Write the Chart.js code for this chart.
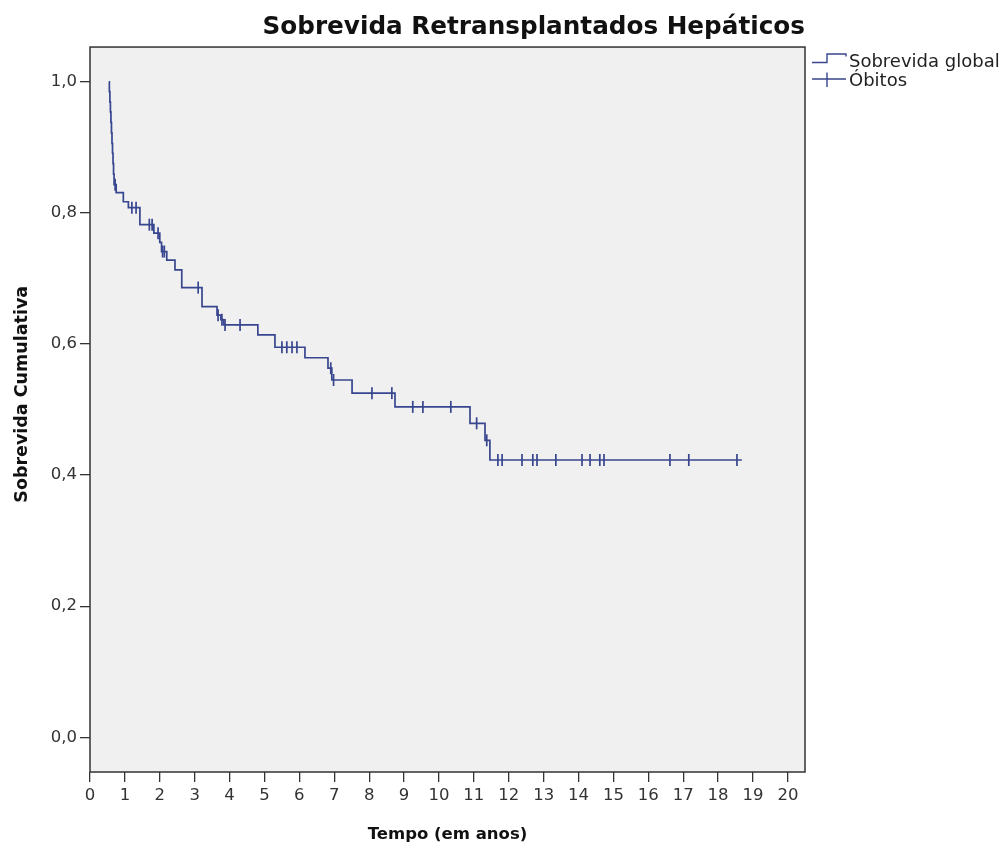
<!DOCTYPE html>
<html><head><meta charset="utf-8">
<script src="https://cdn.jsdelivr.net/npm/chart.js@4.4.0/dist/chart.umd.min.js"></script>
<style>html,body{margin:0;padding:0;background:#fff}#wrap{width:1004px;height:848px}</style>
</head><body><div id="wrap"><canvas id="c" width="1004" height="848"></canvas></div>
<script>
// Kaplan-Meier step curve: survival value reached at each event time
const eventTimes = [0.54, 0.555, 0.57, 0.585, 0.60, 0.615, 0.63, 0.645, 0.66, 0.675, 0.69, 0.75, 0.955, 1.10, 1.43, 1.83, 2.00, 2.05, 2.20, 2.435, 2.63, 3.21, 3.64, 3.75, 3.83, 4.81, 5.30, 6.16, 6.82, 6.93, 7.51, 8.74, 10.89, 11.32, 11.46, 18.68];
const survival = [1.000, 0.985, 0.969, 0.954, 0.938, 0.922, 0.906, 0.891, 0.875, 0.859, 0.843, 0.831, 0.817, 0.808, 0.782, 0.769, 0.755, 0.741, 0.728, 0.713, 0.686, 0.657, 0.644, 0.637, 0.629, 0.614, 0.595, 0.579, 0.563, 0.545, 0.525, 0.504, 0.479, 0.453, 0.423, 0.423];
// Censored observations (Óbitos marks)
const censorTimes = [0.72, 1.20, 1.32, 1.70, 1.78, 1.95, 2.08, 2.13, 3.10, 3.67, 3.78, 3.87, 4.30, 5.50, 5.64, 5.79, 5.93, 6.90, 6.98, 8.08, 8.65, 9.25, 9.54, 10.34, 11.08, 11.37, 11.69, 11.81, 12.38, 12.69, 12.81, 13.35, 14.10, 14.33, 14.61, 14.73, 16.62, 17.16, 18.54];
const censorSurvival = [0.843, 0.808, 0.808, 0.782, 0.782, 0.769, 0.741, 0.741, 0.686, 0.644, 0.637, 0.629, 0.629, 0.595, 0.595, 0.595, 0.595, 0.563, 0.545, 0.525, 0.525, 0.504, 0.504, 0.504, 0.479, 0.453, 0.423, 0.423, 0.423, 0.423, 0.423, 0.423, 0.423, 0.423, 0.423, 0.423, 0.423, 0.423, 0.423];
const xTickValues = [0,1,2,3,4,5,6,7,8,9,10,11,12,13,14,15,16,17,18,19,20];
const yTickValues = [0, 0.2, 0.4, 0.6, 0.8, 1.0];
const titleText = 'Sobrevida Retransplantados Hepáticos';
const xTitle = 'Tempo (em anos)';
const yTitle = 'Sobrevida Cumulativa';
const legendLabels = ['Sobrevida global', 'Óbitos'];

const LINE = '#38458f';
const FONT = "'DejaVu Sans', sans-serif";

const bgPlugin = {
  id: 'plotbg',
  beforeDraw(chart) {
    const {ctx, chartArea: a} = chart;
    ctx.save();
    ctx.fillStyle = '#f0f0f0';
    ctx.fillRect(a.left, a.top, a.right - a.left, a.bottom - a.top);
    ctx.restore();
  },
  afterDraw(chart) {
    const {ctx, chartArea: a} = chart;
    ctx.save();
    ctx.strokeStyle = '#333';
    ctx.lineWidth = 1.5;
    ctx.strokeRect(a.left, a.top, a.right - a.left, a.bottom - a.top);
    // legend
    const rx = a.right, ty = a.top;
    ctx.strokeStyle = LINE;
    ctx.lineWidth = 1.4;
    ctx.beginPath();
    ctx.moveTo(rx + 7, ty + 15.5);
    ctx.lineTo(rx + 22, ty + 15.5);
    ctx.lineTo(rx + 22, ty + 7);
    ctx.lineTo(rx + 41, ty + 7);
    ctx.lineTo(rx + 41, ty + 9.5);
    ctx.moveTo(rx + 7, ty + 32);
    ctx.lineTo(rx + 41, ty + 32);
    ctx.moveTo(rx + 22, ty + 25.5);
    ctx.lineTo(rx + 22, ty + 40);
    ctx.stroke();
    ctx.fillStyle = '#222';
    ctx.font = "18px " + FONT;
    ctx.textBaseline = 'alphabetic';
    ctx.textAlign = 'left';
    ctx.fillText(legendLabels[0], rx + 44, ty + 19.5);
    ctx.fillText(legendLabels[1], rx + 44, ty + 39);
    ctx.restore();
  }
};

new Chart(document.getElementById('c'), {
  type: 'scatter',
  data: {
    datasets: [
      {
        label: legendLabels[0],
        data: eventTimes.map((t, i) => ({x: t, y: survival[i]})),
        showLine: true,
        stepped: 'before',
        borderColor: LINE,
        borderWidth: 1.7,
        pointRadius: 0,
        fill: false
      },
      {
        label: legendLabels[1],
        data: censorTimes.map((t, i) => ({x: t, y: censorSurvival[i]})),
        showLine: false,
        pointStyle: 'line',
        rotation: 90,
        pointRadius: 6,
        borderColor: LINE,
        backgroundColor: LINE,
        borderWidth: 1.7
      }
    ]
  },
  options: {
    responsive: false,
    animation: false,
    devicePixelRatio: 1,
    layout: {padding: {left: 0, top: 0, right: 199, bottom: 0}},
    plugins: {
      legend: {display: false},
      tooltip: {enabled: false},
      title: {
        display: true,
        text: titleText,
        fullSize: false,
        align: 'end',
        color: '#111',
        font: {family: FONT, size: 24.7, weight: 'bold', lineHeight: 1.2},
        padding: {top: 13, bottom: 4.4}
      }
    },
    scales: {
      x: {
        type: 'linear',
        min: 0,
        max: 20.49,
        afterBuildTicks: s => { s.ticks = xTickValues.map(v => ({value: v})); },
        afterFit: s => { s.height = 76; },
        grid: {drawOnChartArea: false, drawTicks: true, tickLength: 10, color: '#333', lineWidth: 1.3},
        border: {display: false},
        ticks: {color: '#333', font: {family: FONT, size: 16.5}, padding: 4, maxRotation: 0, autoSkip: false,
                callback: v => String(v)},
        title: {display: true, text: xTitle, color: '#111', font: {family: FONT, size: 16.5, weight: 'bold'}, padding: {top: 0, bottom: 3}}
      },
      y: {
        type: 'linear',
        min: -0.053,
        max: 1.053,
        afterBuildTicks: s => { s.ticks = yTickValues.map(v => ({value: v})); },
        afterFit: s => { s.width = 90; },
        grid: {drawOnChartArea: false, drawTicks: true, tickLength: 10, color: '#333', lineWidth: 1.3},
        border: {display: false},
        ticks: {color: '#333', font: {family: FONT, size: 16.5}, padding: 3,
                callback: v => v.toFixed(1).replace('.', ',')},
        title: {display: true, text: '     ' + yTitle, color: '#111', font: {family: FONT, size: 17.5, weight: 'bold'}, padding: {top: 12, bottom: 0}}
      }
    }
  },
  plugins: [bgPlugin]
});
</script>
</body></html>
